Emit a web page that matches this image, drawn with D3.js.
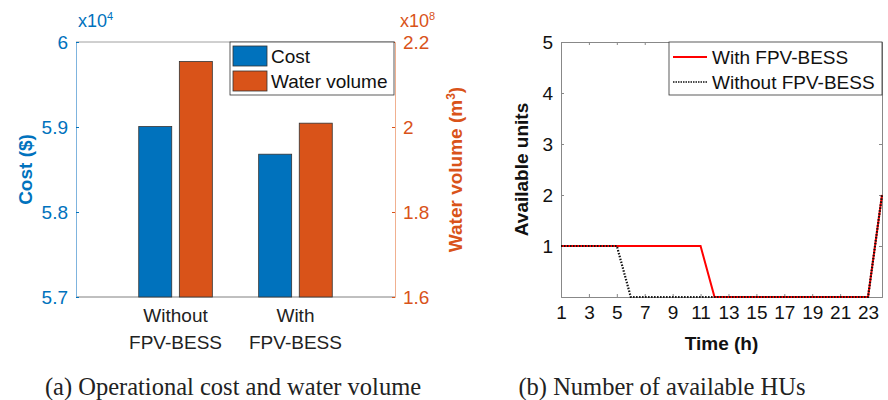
<!DOCTYPE html>
<html>
<head>
<meta charset="utf-8">
<script src="https://cdn.jsdelivr.net/npm/d3@7"></script>
<style>
  body { margin: 0; background: #fff; }
  text { font-family: "Liberation Sans", Arial, sans-serif; }
  .caption { font-family: "Liberation Serif", "Times New Roman", serif; font-size: 24.5px; }
</style>
</head>
<body>
<div id="container"></div>
<script>
// Data for panel (a)
var scenarios = [["Without", "FPV-BESS"], ["With", "FPV-BESS"]];
var costValues = [5.9005, 5.868];     // x10^4 $
var waterValues = [2.154, 2.009];     // x10^8 m3
var costTicks = [5.7, 5.8, 5.9, 6];
var waterTicks = [1.6, 1.8, 2, 2.2];

// Data for panel (b)
var hours = d3.range(1, 25);
var withFpv = [1,1,1,1,1,1,1,1,1,1,1,0,0,0,0,0,0,0,0,0,0,0,0,2];
var withoutFpv = [1,1,1,1,1,0,0,0,0,0,0,0,0,0,0,0,0,0,0,0,0,0,0,2];
var hourTicks = [1,3,5,7,9,11,13,15,17,19,21,23];
var unitTicks = [1,2,3,4,5];

var blue = "#0072BD", orange = "#D95319";
var fs = "19px";
var width = 888, height = 400;
var plain = function(d) { return String(+d.toFixed(2)); };

var svg = d3.select("#container")
    .append("svg")
    .attr("width", width)
    .attr("height", height);

// ---------- Panel (a) ----------
var a = { left: 76, right: 395, top: 42, bottom: 297 };

var xA = d3.scaleLinear().domain([0.17, 2.83]).range([a.left, a.right]);
var yCost = d3.scaleLinear().domain([5.7, 6]).range([a.bottom, a.top]);
var yWater = d3.scaleLinear().domain([1.6, 2.2]).range([a.bottom, a.top]);

var barW = 33, off = 20.3;

// top and bottom box edges
svg.append("line").attr("x1", a.left).attr("x2", a.right).attr("y1", a.top).attr("y2", a.top)
    .attr("stroke", "#a0a0a0");
svg.append("line").attr("x1", a.left).attr("x2", a.right).attr("y1", a.bottom).attr("y2", a.bottom)
    .attr("stroke", "#808080");

svg.selectAll(".cost")
    .data(costValues)
    .enter()
    .append("rect")
    .attr("x", function(d, i) { return xA(i + 1) - off - barW / 2; })
    .attr("y", function(d) { return yCost(d); })
    .attr("width", barW)
    .attr("height", function(d) { return a.bottom - yCost(d); })
    .attr("fill", blue)
    .attr("stroke", "#333")
    .attr("stroke-width", 0.8);

svg.selectAll(".water")
    .data(waterValues)
    .enter()
    .append("rect")
    .attr("x", function(d, i) { return xA(i + 1) + off - barW / 2; })
    .attr("y", function(d) { return yWater(d); })
    .attr("width", barW)
    .attr("height", function(d) { return a.bottom - yWater(d); })
    .attr("fill", orange)
    .attr("stroke", "#333")
    .attr("stroke-width", 0.8);

// left axis
var gL = svg.append("g").attr("transform", "translate(" + a.left + ",0)")
    .call(d3.axisLeft(yCost).tickValues(costTicks).tickSize(-3).tickPadding(8).tickFormat(plain));
gL.select(".domain").attr("stroke", "#7fb4de");
gL.selectAll(".tick line").attr("stroke", blue);
gL.selectAll("text").attr("fill", blue).style("font-size", fs);

// right axis
var gR = svg.append("g").attr("transform", "translate(" + a.right + ",0)")
    .call(d3.axisRight(yWater).tickValues(waterTicks).tickSize(-3).tickPadding(8).tickFormat(plain));
gR.select(".domain").attr("stroke", "#f0b090");
gR.selectAll(".tick line").attr("stroke", orange);
gR.selectAll("text").attr("fill", orange).style("font-size", fs);

// category labels
svg.selectAll(".cat")
    .data(scenarios)
    .enter()
    .append("text")
    .attr("text-anchor", "middle")
    .attr("x", function(d, i) { return xA(i + 1); })
    .attr("y", 322)
    .style("font-size", fs)
    .attr("fill", "#222")
    .each(function(d) {
        d3.select(this).selectAll("tspan").data(d).enter().append("tspan")
            .attr("x", d3.select(this).attr("x"))
            .attr("dy", function(t, j) { return j ? 27 : 0; })
            .text(function(t) { return t; });
    });

// exponent labels
var e1 = svg.append("text").attr("x", 78).attr("y", 27).attr("fill", blue).style("font-size", "18px");
e1.append("tspan").text("x10");
e1.append("tspan").attr("dy", -7).style("font-size", "11px").text("4");
var e2 = svg.append("text").attr("x", 400).attr("y", 27).attr("fill", orange).style("font-size", "18px");
e2.append("tspan").text("x10");
e2.append("tspan").attr("dy", -7).style("font-size", "11px").text("8");

// axis titles
svg.append("text")
    .attr("transform", "translate(32," + (a.top + a.bottom) / 2 + ") rotate(-90)")
    .attr("text-anchor", "middle")
    .attr("fill", blue)
    .style("font-size", fs).style("font-weight", "bold")
    .text("Cost ($)");
var wt = svg.append("text")
    .attr("transform", "translate(462," + (a.top + a.bottom) / 2 + ") rotate(-90)")
    .attr("text-anchor", "middle")
    .attr("fill", orange)
    .style("font-size", fs).style("font-weight", "bold");
wt.append("tspan").text("Water volume (m");
wt.append("tspan").attr("dy", -7).style("font-size", "12px").text("3");
wt.append("tspan").attr("dy", 7).text(")");

// legend (a)
var legA = svg.append("g").attr("transform", "translate(230,42)");
legA.append("rect").attr("width", 164).attr("height", 53).attr("fill", "#fff").attr("stroke", "#333").attr("stroke-width", 0.8);
[["Cost", blue], ["Water volume", orange]].forEach(function(d, i) {
    legA.append("rect").attr("x", 3).attr("y", 4 + i * 25).attr("width", 34).attr("height", 20)
        .attr("fill", d[1]).attr("stroke", "#333").attr("stroke-width", 0.8);
    legA.append("text").attr("x", 41).attr("y", 21 + i * 25).style("font-size", fs).attr("fill", "#111").text(d[0]);
});

svg.append("text").attr("class", "caption").attr("x", 233).attr("y", 395)
    .attr("text-anchor", "middle").attr("fill", "#222").text("(a) Operational cost and water volume");

// ---------- Panel (b) ----------
var b = { left: 561, right: 882, top: 42, bottom: 297 };
var xB = d3.scaleLinear().domain([1, 24]).range([b.left, b.right]);
var yB = d3.scaleLinear().domain([0, 5]).range([b.bottom, b.top]);

var gx = svg.append("g").attr("transform", "translate(0," + b.bottom + ")")
    .call(d3.axisBottom(xB).tickValues(hourTicks).tickSize(-3).tickPadding(9).tickFormat(d3.format("d")));
var gxt = svg.append("g").attr("transform", "translate(0," + b.top + ")")
    .call(d3.axisTop(xB).tickValues(hourTicks).tickSize(-3).tickFormat(""));
var gy = svg.append("g").attr("transform", "translate(" + b.left + ",0)")
    .call(d3.axisLeft(yB).tickValues(unitTicks).tickSize(-3).tickPadding(8).tickFormat(d3.format("d")));
var gyr = svg.append("g").attr("transform", "translate(" + b.right + ",0)")
    .call(d3.axisRight(yB).tickValues(unitTicks).tickSize(-3).tickFormat(""));
[gx, gxt, gy, gyr].forEach(function(g) {
    g.select(".domain").attr("stroke", "#888");
    g.selectAll(".tick line").attr("stroke", "#888");
    g.selectAll("text").attr("fill", "#111").style("font-size", fs);
});

var line = d3.line()
    .x(function(d, i) { return xB(hours[i]); })
    .y(function(d) { return yB(d); });

svg.append("path").datum(withFpv).attr("d", line)
    .attr("fill", "none").attr("stroke", "#ff0000").attr("stroke-width", 2);
svg.append("path").datum(withoutFpv).attr("d", line)
    .attr("fill", "none").attr("stroke", "#111").attr("stroke-width", 2.2).attr("stroke-dasharray", "1.5,1.5");

svg.append("text")
    .attr("transform", "translate(528," + (b.top + b.bottom) / 2 + ") rotate(-90)")
    .attr("text-anchor", "middle").attr("fill", "#111")
    .style("font-size", fs).style("font-weight", "bold")
    .text("Available units");
svg.append("text").attr("x", (b.left + b.right) / 2).attr("y", 350)
    .attr("text-anchor", "middle").attr("fill", "#111")
    .style("font-size", fs).style("font-weight", "bold")
    .text("Time (h)");

// legend (b)
var legB = svg.append("g").attr("transform", "translate(669,42)");
legB.append("rect").attr("width", 213).attr("height", 53).attr("fill", "#fff").attr("stroke", "#333").attr("stroke-width", 0.8);
legB.append("line").attr("x1", 4).attr("x2", 38).attr("y1", 15).attr("y2", 15)
    .attr("stroke", "#ff0000").attr("stroke-width", 2);
legB.append("line").attr("x1", 4).attr("x2", 38).attr("y1", 40).attr("y2", 40)
    .attr("stroke", "#111").attr("stroke-width", 1.5).attr("stroke-dasharray", "1.5,1");
legB.append("text").attr("x", 43).attr("y", 22).style("font-size", fs).attr("fill", "#111").text("With FPV-BESS");
legB.append("text").attr("x", 43).attr("y", 47).style("font-size", fs).attr("fill", "#111").text("Without FPV-BESS");

svg.append("text").attr("class", "caption").attr("x", 662).attr("y", 395)
    .attr("text-anchor", "middle").attr("fill", "#222").text("(b) Number of available HUs");
</script>
</body>
</html>
